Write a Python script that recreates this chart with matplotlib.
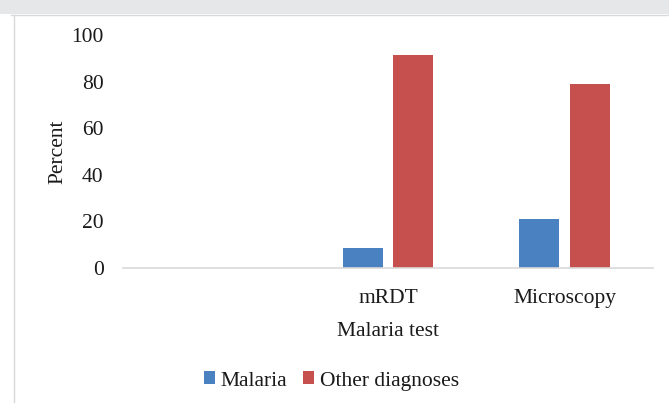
import matplotlib.pyplot as plt
import numpy as np
from matplotlib.patches import Rectangle

plt.rcParams['font.family'] = ['Liberation Serif', 'DejaVu Serif']

# data
categories = ["", "mRDT", "Microscopy"]
malaria = [np.nan, 8.6, 21.2]
other_dx = [np.nan, 91.4, 78.8]
yticks = [0, 20, 40, 60, 80, 100]

BLUE = "#4a81c0"
RED = "#c5504e"
TXT = "#1a1a1a"
FS = 15.5
W, H = 669, 403

fig = plt.figure(figsize=(W / 100, H / 100), dpi=100)
# grey page band on top + light chart frame
fig.patches.append(Rectangle((0, 1 - 14 / H), 1, 14 / H, transform=fig.transFigure,
                             facecolor="#e6e7e9", edgecolor="none", zorder=0))
fig.lines.append(plt.Line2D([11 / W, 1], [1 - 15 / H, 1 - 15 / H], transform=fig.transFigure,
                            color="#d9d9d9", lw=1))
fig.lines.append(plt.Line2D([14 / W, 14 / W], [0, 1 - 15 / H], transform=fig.transFigure,
                            color="#d9d9d9", lw=1))

ax = fig.add_axes([123 / W, (H - 268) / H, (653 - 123) / W, (268 - 35) / H])
xs = np.arange(len(categories))
bw = 0.226
ax.bar(xs - 0.144, malaria, bw, color=BLUE, label="Malaria")
ax.bar(xs + 0.144, other_dx, bw, color=RED, label="Other diagnoses")

ax.set_xlim(-0.5, len(categories) - 0.5)
ax.set_ylim(0, 100)
ax.set_yticks(yticks)
ax.set_xticks(xs)
ax.set_xticklabels(categories)
ax.tick_params(axis="both", length=0, labelsize=FS, colors=TXT)
ax.tick_params(axis="y", pad=14)
ax.tick_params(axis="x", pad=15)
for s in ["top", "right", "left"]:
    ax.spines[s].set_visible(False)
ax.spines["bottom"].set_color("#d9d9d9")
ax.spines["bottom"].set_linewidth(1.2)
ax.set_ylabel("Percent", fontsize=FS, color=TXT, labelpad=3)
ax.set_xlabel("Malaria test", fontsize=FS, color=TXT, labelpad=10)

ax.legend(loc="center", bbox_to_anchor=(0.393, -0.485),
          ncol=2, frameon=False, prop={"family": "Liberation Serif", "size": FS},
          handlelength=0.55, handleheight=0.55,
          handletextpad=0.25, columnspacing=0.7, labelcolor=TXT)

fig.savefig("out.png", dpi=100)
